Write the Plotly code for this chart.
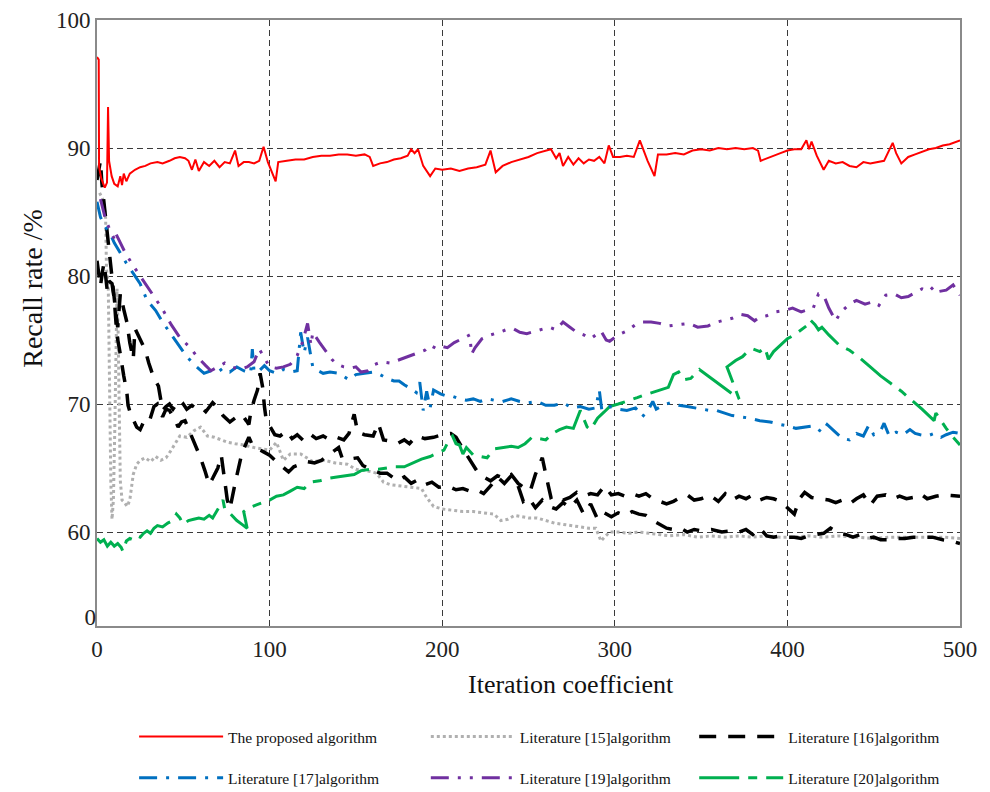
import plotly.graph_objects as go

# ---------------- data ----------------
X_TICKS = [0, 100, 200, 300, 400, 500]
Y_TICKS = [60, 70, 80, 90, 100]
Y_BREAK_VALUE = 53.35     # position where the broken axis shows "0"
Y_BREAK_LABEL = "0"
X_RANGE = [0, 500]
Y_RANGE = [52.66, 100]

NAMES = ["The proposed algorithm", "Literature [15]algorithm", "Literature [16]algorithm",
         "Literature [17]algorithm", "Literature [19]algorithm", "Literature [20]algorithm"]

PROPOSED = [(0,97.1),(1.0,96.9),(1.2,88.5),(2.5,87.6),(4.5,86.9),(5.8,87.3),(6.4,93.2),(7.0,89.0),(8.5,87.8),
            (10,87.2),(12,87.0),(13.5,87.8),(14.5,87.1),(15.5,88.0),(17,87.4),(19,88.0),(22,88.3),(25,88.5),
            (28,88.6),(31,88.8),(35,88.9),(38,88.8),(42,89.0),(45,89.2),(48,89.3),(51,89.2),(53,89.0),(55,88.3),
            (57,89.1),(59,88.2),(62,88.9),(65,88.6),(68,89.0),(71,88.5),(74,88.9),(77,88.8),(80,89.8),(82,88.6),
            (85,88.9),(88,88.9),(91,88.8),(94,89.0),(96.5,90.1),(99,88.9),(103.5,87.4),(105,88.9),(110,89.0),
            (115,89.1),(120,89.1),(125,89.3),(130,89.4),(135,89.4),(140,89.5),(145,89.5),(150,89.4),(155,89.5),
            (158,89.3),(160,88.6),(164,88.8),(168,88.9),(172,89.1),(176,89.2),(180,89.4),(182,89.9),(184,89.6),
            (186,89.9),(189,88.6),(193,87.8),(196,88.4),(200,88.3),(205,88.4),(210,88.2),(215,88.4),(220,88.5),
            (225,88.7),(228,89.8),(231,88.1),(235,88.6),(240,88.9),(245,89.1),(250,89.3),(255,89.6),(260,89.8),
            (263,89.9),(266,89.2),(268,89.6),(270,88.6),(273,89.3),(276,88.7),(279,89.2),(282,88.8),(285,89.1),
            (288,89.0),(291,89.3),(294,88.8),(296.5,90.2),(299,89.3),(303,89.3),(307,89.4),(311,89.3),(314.5,90.6),
            (319,89.0),(323,87.8),(325,89.5),(330,89.5),(335,89.6),(340,89.5),(345,89.8),(350,89.9),(355,89.8),
            (360,90.0),(365,89.9),(370,90.0),(375,89.9),(380,90.0),(383,89.8),(384.5,89.0),(388,89.2),(392,89.4),
            (396,89.6),(400,89.8),(404,89.9),(408,89.9),(411,90.6),(412.5,89.9),(414,90.5),(417,89.4),(421,88.3),
            (424,89.0),(428,88.8),(432,88.9),(436,88.6),(440,88.5),(444,88.9),(448,88.8),(452,88.9),(456,89.0),
            (461,90.4),(463,89.6),(466,88.8),(470,89.3),(474,89.5),(478,89.7),(482,89.9),(486,90.0),(490,90.2),
            (494,90.3),(498,90.5),(500,90.6)]

LIT15 = [(1.5,86.5),(4,85.8),(5,84.5),(5.5,80.5),(6.5,79.5),(7.2,72.0),(8,64.0),(8.7,61.0),(9.5,62.5),
         (10.3,68.0),(11,75.0),(11.6,79.0),(12.2,76.0),(12.8,70.0),(13.5,64.0),(14.5,62.5),(16,62.3),(17.5,62.0),
         (19,62.5),(21,64.5),(23,65.3),(25,65.6),(28,65.8),(31,65.5),(34,65.9),(37,65.6),(40,65.8),(42.5,66.3),
         (45,66.8),(48,67.5),(52,67.4),(56,67.9),(60,68.2),(64,67.5),(68,67.4),(72,67.2),(76,67.0),(80,66.9),
         (85,66.8),(91,66.6),(96,66.5),(100,66.4),(104,67.0),(108,65.6),(112,66.1),(118,66.1),(125,65.5),
         (132,65.6),(138,65.4),(145,65.3),(150,64.9),(156,64.8),(162,64.6),(166,63.9),(170,63.7),(176,63.6),
         (182,63.5),(188,63.4),(191,62.7),(195,62.0),(200,61.8),(206,61.7),(212,61.6),(218,61.6),(224,61.5),
         (230,61.4),(234,60.9),(238,61.0),(242,61.3),(246,61.2),(250,61.1),(255,61.1),(260,60.9),(265,60.7),
         (270,60.6),(275,60.5),(280,60.4),(285,60.3),(289,60.3),(292,59.3),(294,59.6),(297,60.0),(302,60.0),
         (308,59.9),(314,60.0),(320,59.9),(326,59.8),(332,59.7),(340,59.8),(348,59.6),(356,59.7),(364,59.6),
         (372,59.7),(380,59.6),(388,59.7),(396,59.6),(404,59.6),(412,59.7),(420,59.6),(430,59.7),(440,59.6),
         (450,59.5),(460,59.6),(470,59.6),(480,59.6),(490,59.6),(500,59.5)]

LIT16_UPPER = [(0,87.5),(0.8,88.2),(2,89.0),(2.8,87.3),(3.5,86.4),(4.5,85.3),(5.5,84.0),(6.5,82.3),(7.5,81.0),
               (9,79.4),(10.6,77.5),(12,76.0),(13.5,78.6),(15.5,77.4),(17.3,76.4),(19,74.8),(21,73.5),(22,75.9),
               (25,75.0),(28,74.2),(30,73.2),(31,72.8),(33,72.0),(35.6,71.4),(36.5,70.6),(38,69.5),(40,69.8),
               (42,70.0),(44,69.6),(46,70.0),(48,69.7),(50,70.0),(52,69.6),(55,69.9),(57,69.7),(60,69.8),
               (63,69.4),(65,69.8),(67,70.1),(70,69.7),(73,69.1),(77,68.6),(80,68.9),(83,68.5),(86,68.8),
               (88,68.4),(89,69.3),(91,70.3),(93,71.1),(94.5,72.4),(96,71.3),(97,69.8),(98,68.8),(100,68.3),
               (103,67.6),(106,67.5),(110,67.9),(113,67.3),(116,67.6),(120,67.1),(124,67.6),(127,67.3),
               (131,67.5),(135,67.2),(139,67.4),(143,67.2),(146,67.7),(149,69.2),(151,67.8),(155,67.6),
               (160,67.5),(163,68.5),(166,67.2),(170,67.1),(174,66.9),(178,67.2),(181,66.9),(185,67.5),
               (190,67.3),(195,67.4),(200,67.6),(205,67.7),(208,67.4),(212,66.5),(216,65.6),(220,64.8),
               (224,64.3),(228,64.0),(232,64.4),(236,64.2),(240,64.5),(244,63.8),(248,63.4),(251,63.2),
               (254,64.5),(258,65.8),(260,64.5),(263,62.7),(266,62.9),(270,62.5),(274,62.7),(278,63.1),
               (282,62.8),(286,63.0),(290,62.9),(294,63.6),(298,62.9),(302,63.0),(306,62.8),(310,63.0),
               (314,62.8),(318,63.0),(322,62.6),(326,62.4),(330,62.2),(334,62.4),(338,62.7),(342,62.9),
               (346,62.5),(350,62.6),(355,62.9),(360,62.4),(364,63.0),(368,62.5),(372,62.8),(376,62.6),
               (380,62.9),(384,62.5),(388,62.7),(392,62.6),(396,62.4),(400,61.9),(404,61.4),(407,62.6),
               (410,63.1),(414,62.7),(419,62.6),(424,62.5),(428,62.3),(432,62.5),(436,62.2),(440,62.6),
               (444,62.9),(448,62.1),(452,62.8),(457,62.9),(461,62.6),(465,62.8),(469,62.6),(473,62.7),
               (477,63.0),(481,62.6),(486,62.8),(490,62.9),(495,62.85),(500,62.8)]

LIT16_LOWER = [(0,81.2),(1,80.3),(2,79.2),(3,80.2),(4,81.0),(5,80.0),(6,78.8),(7,79.6),(8.7,79.4),(10,78.2),
               (11.5,75.4),(13,74.3),(14.4,73.0),(15.5,72.2),(17.3,70.9),(18,69.9),(19.5,69.2),(21,68.7),
               (23,68.2),(25,68.0),(27,68.6),(30,68.5),(33,69.8),(35,70.0),(38,69.0),(40,69.6),(42,69.5),
               (45,68.8),(47,68.2),(49,68.6),(51,68.7),(53.5,67.9),(56,67.1),(58,66.5),(60,65.8),(62.5,64.8),
               (65,63.7),(67,64.2),(70,65.0),(72,66.0),(74,64.0),(75.5,62.5),(77,61.8),(78,62.6),(80,63.8),
               (82,65.0),(84,66.2),(86,66.8),(88,67.4),(90,66.8),(93,66.5),(96,66.3),(100,66.0),(104,65.5),
               (108,65.0),(111,64.7),(114,65.1),(118,65.3),(122,65.5),(126,65.4),(130,65.6),(134,66.0),
               (138,66.4),(140,66.6),(142,65.8),(146,65.7),(151,65.8),(154,65.2),(157,65.0),(160,64.8),
               (164,64.6),(168,64.6),(170,64.4),(174,64.0),(178,64.3),(182,63.8),(186,64.1),(190,63.7),
               (194,63.9),(198,63.5),(203,63.6),(208,63.3),(212,63.4),(216,63.2),(220,63.3),(224,63.0),
               (228,63.6),(232,64.3),(236,63.8),(240,64.4),(244,63.6),(247,62.4),(250,62.7),(254,61.9),
               (258,62.5),(262,62.0),(266,61.8),(270,62.3),(274,61.9),(278,62.5),(282,61.4),(286,62.2),
               (290,61.0),(294,61.5),(298,61.2),(302,61.5),(306,61.3),(310,61.6),(314,61.4),(318,61.3),
               (322,60.9),(326,60.6),(330,60.3),(334,60.2),(338,60.3),(342,60.0),(346,60.2),(350,60.1),
               (356,60.2),(362,60.0),(368,60.1),(372,60.0),(376,60.2),(380,59.8),(384,60.3),(388,59.7),
               (392,59.6),(396,59.7),(400,59.6),(404,59.6),(408,59.5),(412,59.7),(416,59.8),(421,59.9),
               (425,60.3),(430,59.9),(434,59.8),(438,59.6),(442,59.8),(446,59.5),(450,59.6),(454,59.4),
               (458,59.4),(463,59.5),(468,59.5),(473,59.6),(478,59.6),(484,59.6),(490,59.4),(495,59.3),(500,59.1)]

LIT17 = [(0,85.8),(2,84.6),(4,84.0),(6,83.6),(7.7,83.3),(10,82.6),(12.5,82.0),(15,81.4),(17,81.0),(21,80.2),
         (25,79.4),(29,78.1),(34,77.3),(38,76.4),(42.5,75.5),(47,74.7),(52,73.7),(57,73.0),(62,72.4),(66,72.6),
         (69,72.4),(73,72.8),(77,72.5),(81,72.9),(85,72.6),(89,72.4),(90,74.3),(91,72.5),(94,72.6),(97,73.0),
         (100,72.6),(104,72.4),(108,72.7),(112,72.5),(116,72.6),(118,75.6),(120,74.0),(122,75.2),(125,72.9),
         (128,72.6),(131,72.4),(135,72.5),(140,72.4),(146,71.9),(150,72.3),(155,72.4),(160,72.5),(164,72.3),
         (168,72.0),(172,71.8),(175,71.8),(178,71.5),(182,71.2),(185,70.9),(187,71.7),(189,69.5),(191,71.0),
         (193,69.7),(195,71.1),(199,70.8),(203,70.6),(206,70.6),(210,70.4),(214,70.3),(218,70.4),(222,70.2),
         (226,70.4),(230,70.3),(235,70.2),(240,70.4),(245,70.2),(250,70.1),(255,70.2),(260,69.9),(265,69.9),
         (270,70.1),(275,69.7),(280,69.8),(285,69.6),(289,69.7),(291,71.1),(292.5,69.5),(297,69.8),(302,69.6),
         (307,69.5),(312,69.7),(316,69.0),(320,69.7),(322,70.2),(324,69.6),(328,69.9),(332,70.1),(337,69.9),
         (342,69.8),(346,69.7),(350,69.6),(355,69.5),(359,69.5),(363,69.3),(368,69.1),(373,69.0),(378,68.9),
         (384,68.7),(390,68.6),(396,68.4),(400,68.3),(405,68.1),(410,68.2),(415,68.3),(420,67.8),(423,68.4),
         (427,67.9),(432,67.3),(436,67.2),(440,67.7),(444,67.5),(447,68.3),(450,67.6),(454,67.9),(456,68.5),
         (459,67.5),(463,67.8),(467,67.6),(471,68.0),(474,67.7),(477,67.6),(481,67.5),(485,67.7),(489,67.4),
         (492,67.6),(496,67.8),(500,67.7)]

LIT19 = [(2,86.0),(5,84.4),(7.5,83.6),(10,82.9),(10.6,83.4),(13.5,82.6),(16.4,81.8),(21,80.8),(26,79.8),
         (31,78.9),(35,78.0),(38,77.4),(43,76.2),(48,75.2),(54,74.4),(58,73.7),(63,73.0),(66,72.6),(70,72.9),
         (74,73.2),(78,72.9),(83,72.7),(87,72.9),(91,73.3),(94,74.3),(97,73.6),(100,72.9),(104,72.8),
         (108,72.9),(112,73.1),(116,73.8),(119,74.8),(122,76.3),(124,74.6),(125,75.6),(129,74.8),(133,74.0),
         (136,73.5),(139,73.1),(143,72.9),(147,72.8),(150,72.9),(153,72.5),(157,72.6),(161,73.1),(165,73.3),
         (170,73.2),(174,73.4),(178,73.6),(182,73.8),(186,74.0),(190,74.2),(193,74.6),(197,74.3),(200,74.5),
         (203,74.4),(207,74.8),(210,75.0),(213,75.2),(216,75.4),(217,73.9),(219,74.4),(223,75.1),(228,75.4),
         (233,75.6),(237,75.8),(241,75.9),(245,75.6),(249,75.5),(254,75.7),(258,75.9),(262,76.0),(266,75.8),
         (270,76.4),(274,76.0),(278,75.6),(282,75.4),(286,75.1),(289,75.4),(292,75.7),(295,75.0),(297,74.9),
         (302,75.4),(307,75.7),(312,76.2),(316,76.4),(321,76.4),(326,76.3),(331,76.1),(336,76.2),(343,76.3),
         (348,76.0),(354,76.1),(359,76.4),(364,76.6),(368,76.7),(373,77.0),(377,76.9),(381,76.5),(384,76.8),
         (388,76.9),(393,77.2),(398,77.3),(403,77.5),(408,77.2),(412,77.4),(415,77.5),(418,78.6),(421,78.5),
         (424,77.5),(428,76.5),(431,77.2),(436,77.8),(440,78.1),(445,77.8),(450,78.0),(453,77.7),(457,78.5),
         (462,78.6),(466,78.3),(470,78.4),(474,78.7),(478,79.0),(482,78.8),(485,79.2),(488,78.8),(492,78.9),
         (496,79.3),(500,78.5)]

LIT20 = [(0,59.5),(2,59.2),(4,59.4),(6,58.9),(8,59.2),(10,58.9),(12,59.1),(14,58.8),(15,58.5),(17,59.3),
         (19,59.5),(21,59.4),(23,59.7),(25,59.6),(27,59.9),(29,60.1),(31,59.9),(33,60.3),(35,60.5),(38,60.4),
         (41,60.7),(44,60.9),(46,61.4),(48,61.1),(50,60.6),(53,60.9),(56,61.0),(59,61.1),(62,61.0),(65,61.3),
         (67,61.1),(69,61.5),(71,62.0),(73,62.5),(74,61.8),(76,61.6),(78,61.3),(81,60.9),(84,60.6),(87,60.3),
         (85,61.6),(88,61.9),(92,62.1),(96,62.3),(100,62.5),(104,62.8),(108,62.9),(112,63.2),(116,63.5),
         (120,63.4),(124,63.9),(129,64.0),(134,64.2),(139,64.3),(144,64.4),(149,64.5),(153,64.8),(158,64.9),
         (163,64.9),(168,65.0),(173,65.1),(178,65.1),(183,65.4),(188,65.7),(193,65.9),(198,66.2),(201,66.4),
         (204,67.2),(206,67.5),(208,66.9),(210,66.8),(212,66.1),(214,66.6),(218,66.0),(222,65.9),(226,65.8),
         (230,66.5),(235,66.6),(240,66.7),(244,66.6),(248,66.9),(252,67.4),(256,67.3),(260,67.2),(264,67.7),
         (268,68.0),(272,68.2),(276,68.1),(280,69.5),(284,68.2),(286,68.0),(290,68.9),(294,69.4),(297,69.8),
         (302,70.0),(307,70.2),(313,70.5),(317,70.7),(322,70.9),(327,71.1),(331,71.3),(334,72.3),(337,72.5),
         (340,71.9),(344,72.0),(349,72.7),(356,72.0),(363,71.3),(372,70.4),(365,72.9),(370,73.4),(374,73.7),
         (377,74.1),(380,74.3),(384,74.1),(387,74.4),(389,73.5),(392,74.1),(396,74.6),(400,75.1),(404,75.4),
         (408,75.8),(411,76.1),(413,76.6),(416,76.2),(418,75.8),(420,76.0),(424,75.4),(430,74.6),(436,74.2),
         (442,73.6),(448,72.9),(454,72.2),(460,71.6),(466,71.0),(472,70.3),(478,69.6),(485,68.7),(486,69.3),
         (492,68.1),(496,67.4),(500,66.8)]

# ---------------- styling ----------------
SERIF = "Liberation Serif, Times New Roman, serif"
GRID = dict(color="#3a3a3a", dash="6px,4px")
AXIS_LINE = "#8a8a8a"

fig = go.Figure()


def add(pts, name, color, width, dash, legend, rank, show=True):
    xs = [p[0] for p in pts]
    ys = [p[1] for p in pts]
    fig.add_trace(go.Scatter(
        x=xs, y=ys, mode="lines", name=name,
        line=dict(color=color, width=width, dash=dash),
        legend=legend, legendgroup=name, legendrank=rank, showlegend=show,
        hoverinfo="skip"))


add(LIT15, NAMES[1], "#b0b0b0", 3, "3px,3px", "legend2", 1)
add(LIT16_LOWER, NAMES[2], "#000000", 3.5, "17px,12px", "legend3", 1, show=False)
add(LIT16_UPPER, NAMES[2], "#000000", 3.5, "17px,12px", "legend3", 1)
add(LIT20, NAMES[5], "#00b050", 3, "40px,9px,9px,9px", "legend3", 2)
add(LIT17, NAMES[3], "#0070c0", 3, "18px,9px,3px,9px", "legend", 2)
add(LIT19, NAMES[4], "#7030a0", 3, "18px,9px,3px,9px,3px,9px", "legend2", 2)
add(PROPOSED, NAMES[0], "#ff0000", 2, "solid", "legend", 1)

# axis carrying only the broken-axis "0" label
fig.add_trace(go.Scatter(x=[None], y=[None], yaxis="y2", showlegend=False, hoverinfo="skip"))

tick_font = dict(family=SERIF, size=23, color="#222222")
legend_common = dict(orientation="v", yanchor="top", xanchor="left", y=-0.155,
                     itemwidth=84, traceorder="grouped", tracegroupgap=18,
                     font=dict(family=SERIF, size=15.5, color="#111111"),
                     bgcolor="rgba(0,0,0,0)", itemclick=False, itemdoubleclick=False)

# the page shows the figure 8px in from its top-left corner
fig.update_layout(
    width=982, height=784,
    margin=dict(l=89, r=30, t=12, b=166, autoexpand=False),
    paper_bgcolor="white", plot_bgcolor="white",
    xaxis=dict(range=X_RANGE, tickvals=X_TICKS, ticktext=[str(v) for v in X_TICKS],
               showgrid=True, gridcolor=GRID["color"], griddash=GRID["dash"], gridwidth=1,
               zeroline=False, showline=True, linecolor=AXIS_LINE, linewidth=2, mirror=True,
               ticks="", tickfont=tick_font, ticklabelstandoff=1, automargin=False),
    yaxis=dict(range=Y_RANGE, tickvals=Y_TICKS, ticktext=[str(v) for v in Y_TICKS],
               showgrid=True, gridcolor=GRID["color"], griddash=GRID["dash"], gridwidth=1,
               zeroline=False, showline=True, linecolor=AXIS_LINE, linewidth=2, mirror=True,
               ticks="", tickfont=tick_font, ticklabelstandoff=0, automargin=False),
    yaxis2=dict(range=Y_RANGE, overlaying="y", side="left", anchor="x",
                tickvals=[Y_BREAK_VALUE], ticktext=[Y_BREAK_LABEL], showgrid=False,
                zeroline=False, showline=False, ticks="", tickfont=tick_font, ticklabelstandoff=0,
                automargin=False),
    legend=dict(x=0.043, **legend_common),
    legend2=dict(x=0.381, **legend_common),
    legend3=dict(x=0.692, **legend_common),
    showlegend=True,
    annotations=[
        dict(text="Iteration coefficient", xref="paper", yref="paper", x=0.549, y=-0.097,
             xanchor="center", yanchor="middle", showarrow=False,
             font=dict(family=SERIF, size=26, color="#111111")),
        dict(text="Recall rate /%", xref="paper", yref="paper", x=-0.075, y=0.557,
             xanchor="center", yanchor="middle", showarrow=False, textangle=-90,
             font=dict(family=SERIF, size=28, color="#111111")),
    ],
)

fig.write_html("out.html", config={"displayModeBar": False})
